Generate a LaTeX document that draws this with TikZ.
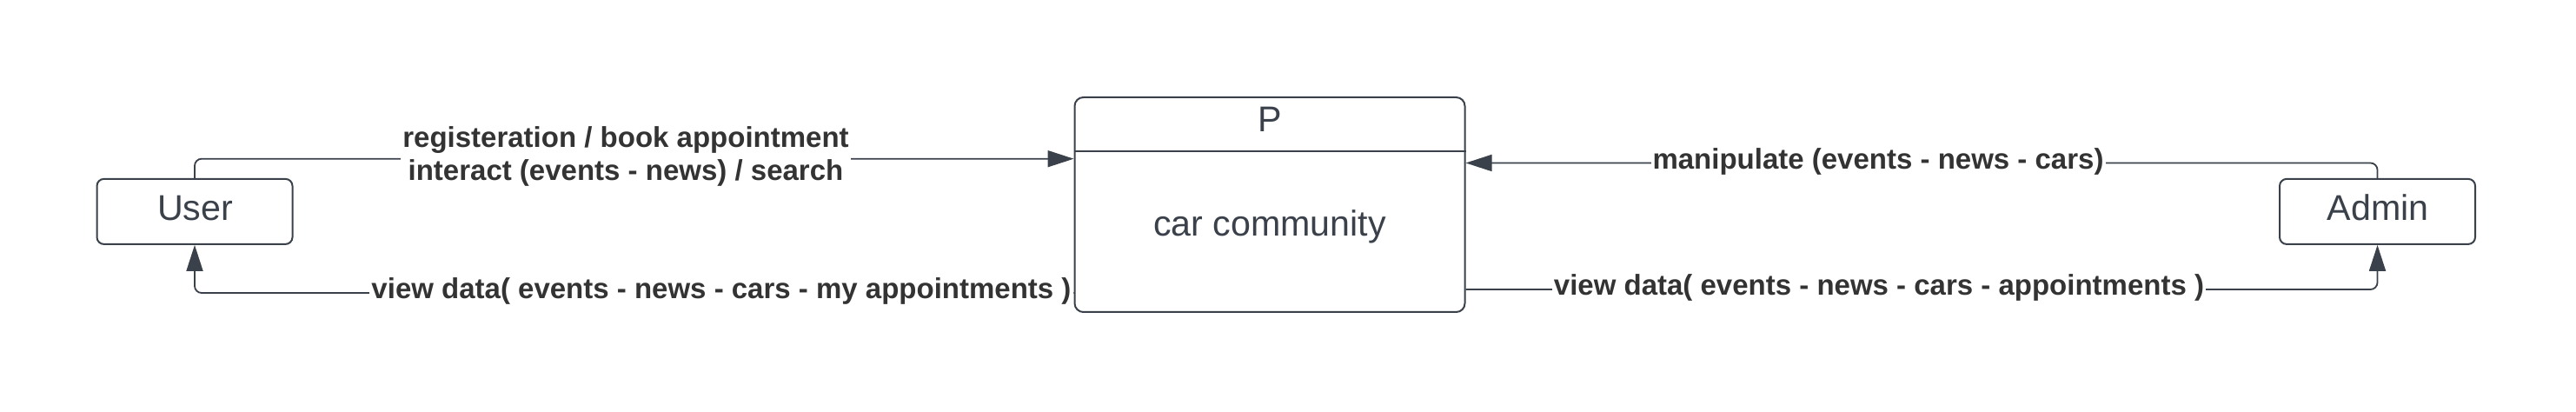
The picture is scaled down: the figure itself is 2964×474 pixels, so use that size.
\documentclass[tikz,border=0pt]{standalone}
\usepackage{fontspec}
\setmainfont{Liberation Sans}
\usetikzlibrary{arrows.meta}
\definecolor{linec}{HTML}{3A414A}
\definecolor{labc}{HTML}{333333}
\begin{document}
\begin{tikzpicture}[x=0.5pt,y=-0.5pt,
  entity/.style={draw=linec,line width=1pt,rounded corners=4pt,minimum width=112.5pt,minimum height=37.5pt,inner sep=0pt},
  boxtext/.style={text=linec,font=\fontsize{20.6}{24}\selectfont,inner sep=0pt},
  conn/.style={draw=linec,line width=0.9pt,rounded corners=4pt,-{Triangle[length=15pt,width=9.5pt]}},
  flowlabel/.style={text=labc,font=\fontsize{16.5}{19}\selectfont\bfseries,fill=white,inner xsep=1pt,inner ysep=1pt,align=center}]
\useasboundingbox (0,0) rectangle (2964,474);
% entities
\node[entity] (user) at (224,243.4) {};
\node[boxtext,anchor=base] (usertext) at (224.5,254) {User};
\node[entity] (admin) at (2735.5,243.4) {};
\node[boxtext,anchor=base] (admintext) at (2736,253.5) {Admin};
% process
\node[draw=linec,line width=1pt,rounded corners=5pt,minimum width=224.5pt,minimum height=123.5pt,inner sep=0pt] (proc) at (1461,235.5) {};
\draw[linec,line width=1pt] (proc.west |- 0,173.7) coordinate (divl) -- (proc.east |- 0,173.7) coordinate (divr);
\node[boxtext] (ptext) at (1461,137.5) {P};
\node[boxtext,anchor=base] (proctext) at (1461,271.7) {car community};
% connectors
\draw[conn] (user.north) |- (proc.west |- 0,182.7);
\draw[conn] (proc.west |- 0,337) -| (user.south);
\draw[conn] (admin.north) |- (proc.east |- 0,187.5);
\draw[conn] (proc.east |- 0,333) -| (admin.south);
% labels
\node[flowlabel] (l1) at (720,180) {registeration / book appointment\\interact (events - news) / search};
\node[flowlabel,anchor=base] (l2) at (830,343.5) {view data( events - news - cars - my appointments )};
\node[flowlabel,anchor=base] (l3) at (2161,194.5) {manipulate (events - news - cars)};
\node[flowlabel,anchor=base] (l4) at (2162,339.5) {view data( events - news - cars - appointments )};
\end{tikzpicture}
\end{document}
